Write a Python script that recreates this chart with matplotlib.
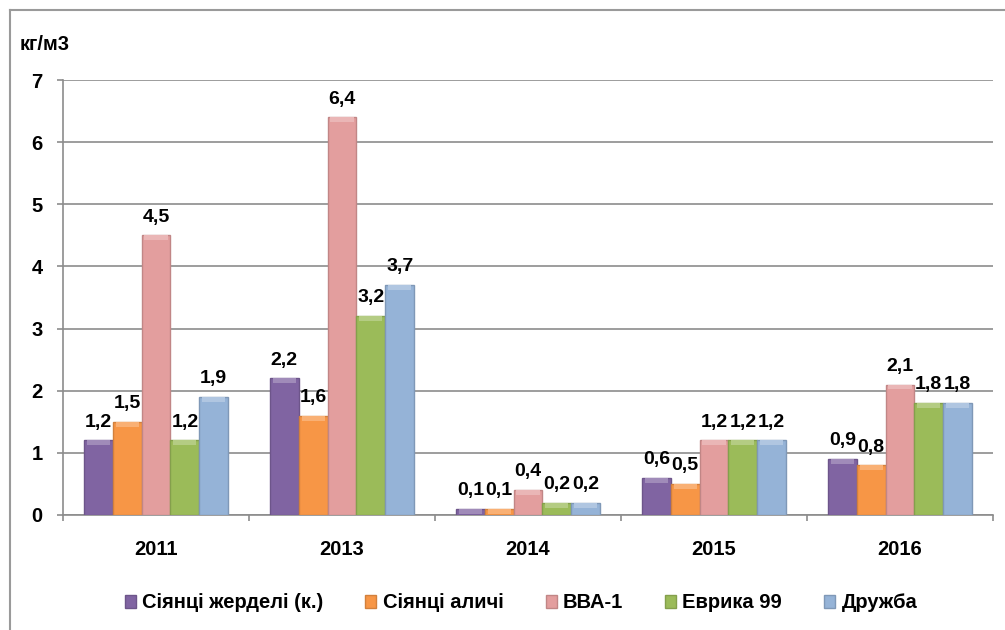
import matplotlib.pyplot as plt
import numpy as np
from matplotlib.lines import Line2D
from matplotlib.patches import Patch
from matplotlib.colors import to_rgb

plt.rcParams['font.family'] = ['Liberation Sans', 'DejaVu Sans']
plt.rcParams['font.weight'] = 'bold'

years = ['2011', '2013', '2014', '2015', '2016']
series_names = ['Сіянці жерделі (к.)', 'Сіянці аличі', 'ВВА-1', 'Еврика 99', 'Дружба']
apricot = [1.2, 2.2, 0.1, 0.6, 0.9]
cherry_plum = [1.5, 1.6, 0.1, 0.5, 0.8]
vva1 = [4.5, 6.4, 0.4, 1.2, 2.1]
evrika = [1.2, 3.2, 0.2, 1.2, 1.8]
druzhba = [1.9, 3.7, 0.2, 1.2, 1.8]
series = [apricot, cherry_plum, vva1, evrika, druzhba]
colors = ['#8064A2', '#F79646', '#E39E9E', '#9BBB59', '#95B3D7']


def shade(c, f):
    r = np.array(to_rgb(c))
    if f < 1:
        return tuple(r * f)
    return tuple(r + (1 - r) * (f - 1))


fig = plt.figure(figsize=(10.05, 6.3), dpi=100)
ax = fig.add_axes([63 / 1005, 115 / 630, 930 / 1005, 435 / 630])

x = np.arange(len(years))
width = 0.155
for i, (vals, c) in enumerate(zip(series, colors)):
    pos = x + (i - 2) * width
    vals = np.array(vals)
    ax.bar(pos, vals, width, color=c, edgecolor=shade(c, 0.85), linewidth=1.0, zorder=3)
    # lighter cap on top of each bar
    cap = np.minimum(vals, 0.08)
    ax.bar(pos, cap, width * 0.8, bottom=vals - cap, color=shade(c, 1.25),
           linewidth=0, zorder=4)
    for p, v in zip(pos, vals):
        ax.annotate(f'{v:.1f}'.replace('.', ','), (p, v), xytext=(0, 7),
                    textcoords='offset points', ha='center', va='bottom',
                    fontsize=14, fontweight='bold')

ax.set_xlim(-0.5, len(years) - 0.5)
ax.set_ylim(0, 7)
ax.set_yticks(range(8))
ax.set_yticklabels([str(v) for v in range(8)], fontsize=14.5, fontweight='bold')
ax.yaxis.grid(True, color='#8C8C8C', linewidth=1.2, zorder=0)
ax.set_axisbelow(True)

ax.set_xticks(x)
ax.set_xticklabels(years, fontsize=14.5, fontweight='bold')
ax.tick_params(axis='x', length=0, pad=18)
ax.set_xticks(np.arange(-0.5, len(years)), minor=True)
ax.tick_params(axis='x', which='minor', length=4.5, color='#8C8C8C', width=1.2)
ax.tick_params(axis='y', length=4.5, color='#8C8C8C', width=1.2, pad=10)

for s in ['top', 'right']:
    ax.spines[s].set_visible(False)
for s in ['left', 'bottom']:
    ax.spines[s].set_color('#8C8C8C')
    ax.spines[s].set_linewidth(1.2)

fig.text(20 / 1005, 1 - 44 / 630, 'кг/м3', fontsize=14.5, fontweight='bold', va='center')

handles = [Patch(facecolor=c, edgecolor=shade(c, 0.85)) for c in colors]
fig.legend(handles, series_names, loc='center', bbox_to_anchor=(521 / 1005, 1 - 603 / 630),
           ncol=5, frameon=False, fontsize=14.5, handlelength=0.55, handleheight=0.6,
           handletextpad=0.3, columnspacing=2.1)

# chart border
fig.add_artist(Line2D([10 / 1005, 10 / 1005], [0, 1 - 10 / 630], transform=fig.transFigure,
                      color='#9A9A9A', linewidth=1.5))
fig.add_artist(Line2D([10 / 1005, 1], [1 - 10 / 630, 1 - 10 / 630], transform=fig.transFigure,
                      color='#9A9A9A', linewidth=1.5))

fig.savefig('out.png', dpi=100)
